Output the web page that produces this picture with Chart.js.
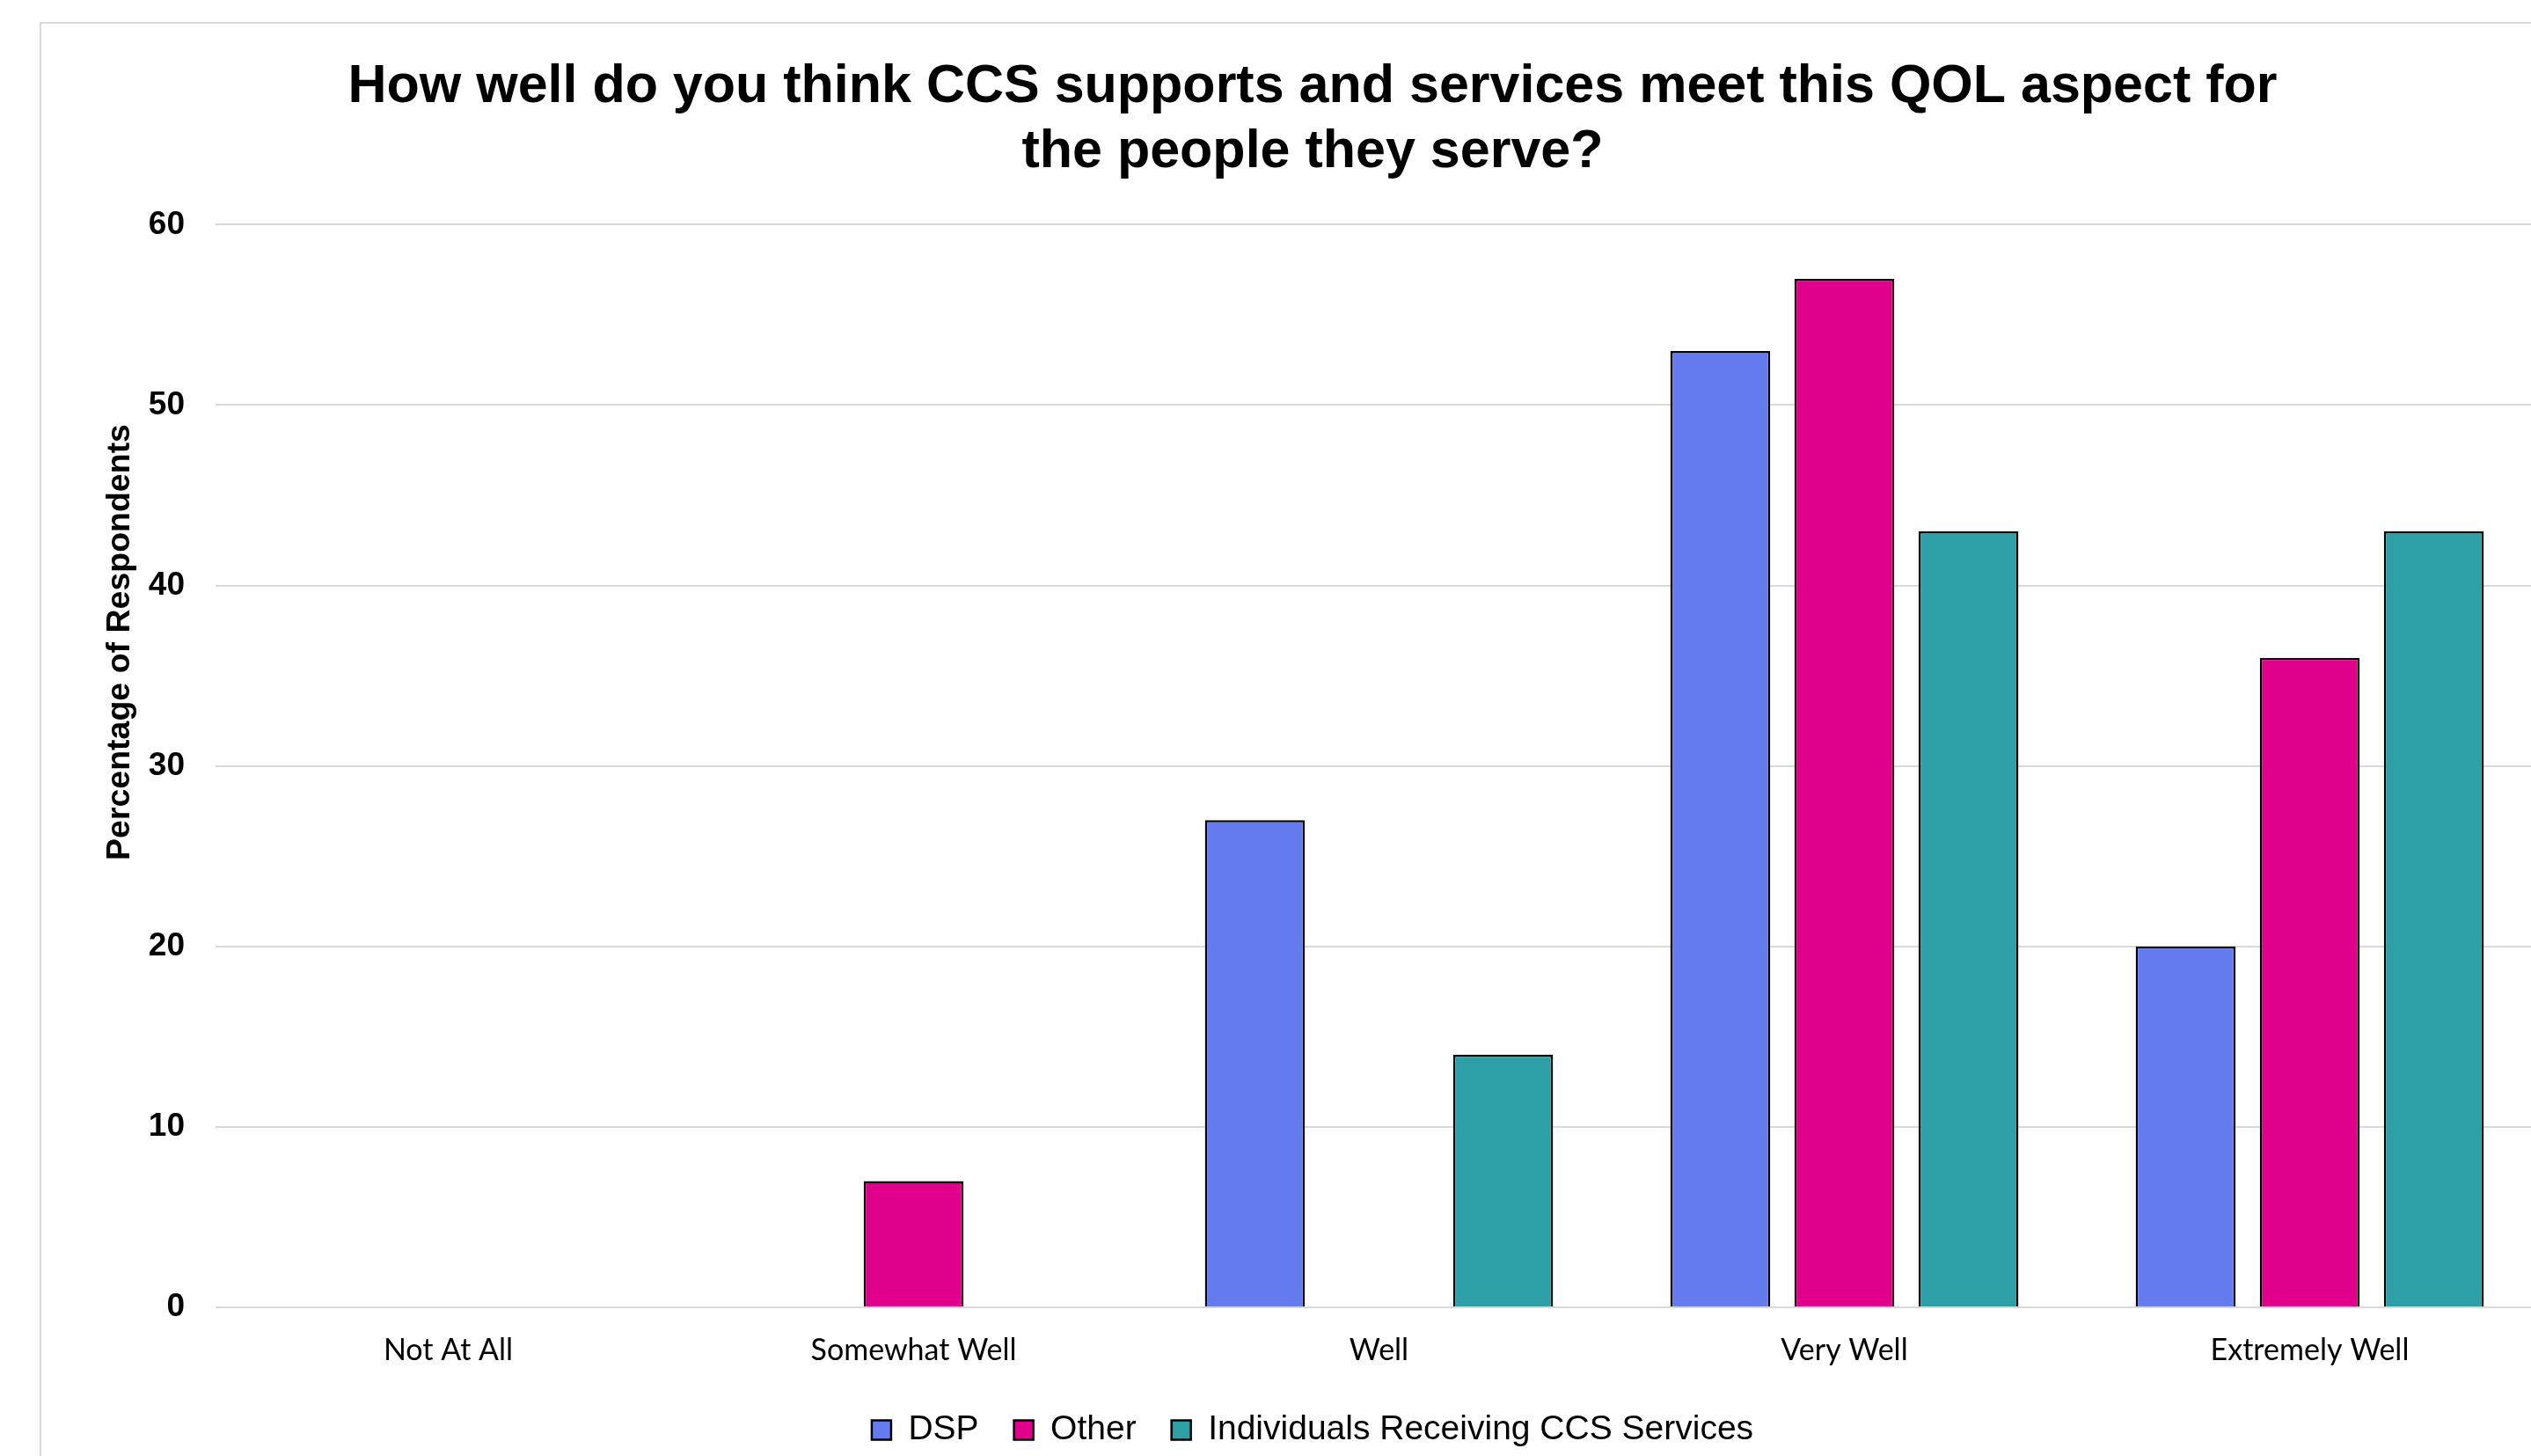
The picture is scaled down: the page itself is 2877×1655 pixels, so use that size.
<!DOCTYPE html>
<html>
<head>
<meta charset="utf-8">
<script src="https://cdn.jsdelivr.net/npm/chart.js@4.4.1/dist/chart.umd.min.js"></script>
<style>
    html, body { margin: 0; padding: 0; overflow: hidden; background: #ffffff; }
    #marco { position: absolute; left: 45px; top: 25px; width: 2950px; height: 1700px; border: 2px solid #d9d9d9; }
    #grafico { position: absolute; left: 0; top: 0; }
</style>
</head>
<body>
<div id="marco"></div>
<canvas id="grafico" width="2890" height="1655" style="width:2890px;height:1655px"></canvas>
<script>
const categorias = ["Not At All", "Somewhat Well", "Well", "Very Well", "Extremely Well"]
const dsp = [0, 0, 27, 53, 20]
const otros = [0, 7, 0, 57, 36]
const individuos = [0, 0, 14, 43, 43]
const series = ["DSP", "Other", "Individuals Receiving CCS Services"]
const colores = ["#647cef", "#e0008c", "#2ca0a6"]
const yMax = 60
const yPaso = 10
const titulo = ["How well do you think CCS supports and services meet this QOL aspect for", "the people they serve?"]
const tituloY = "Percentage of Respondents"

const arial = "'Liberation Sans', Arial, sans-serif"

// titulo del eje y, un poco mas arriba que el centro del area
const ejeYTitulo = {
    id: "ejeYTitulo",
    afterDraw(chart) {
        const ctx = chart.ctx
        ctx.save()
        ctx.translate(147, 730)
        ctx.rotate(-Math.PI / 2)
        ctx.font = "bold 37.5px " + arial
        ctx.fillStyle = "#000000"
        ctx.textAlign = "center"
        ctx.textBaseline = "alphabetic"
        ctx.fillText(tituloY, 0, 0)
        ctx.restore()
    }
}

const valores = [dsp, otros, individuos]
const datasets = series.map(function (nombre, i) {
    return {
        label: nombre,
        data: valores[i],
        backgroundColor: colores[i],
        borderColor: "#000000",
        borderWidth: 2.5,
        categoryPercentage: 0.8,
        barPercentage: 0.805
    }
})

const ctx = document.getElementById("grafico").getContext("2d")
const chart = new Chart(ctx, {
    type: "bar",
    data: { labels: categorias, datasets: datasets },
    options: {
        responsive: false,
        animation: false,
        layout: { padding: { left: 94, right: 0, top: 0, bottom: 0 } },
        plugins: {
            tooltip: { enabled: false },
            title: {
                display: true,
                text: titulo,
                color: "#000000",
                font: { family: arial, size: 61, weight: "bold", lineHeight: 1.2 },
                padding: { top: 63, bottom: 46 }
            },
            legend: {
                display: true,
                position: "bottom",
                labels: {
                    color: "#000000",
                    font: { family: arial, size: 39 },
                    boxWidth: 22,
                    boxHeight: 22,
                    padding: 40
                }
            }
        },
        scales: {
            x: {
                grid: { display: false, drawTicks: false },
                border: { display: false },
                ticks: {
                    color: "#000000",
                    font: { family: "Lato, 'Open Sans', sans-serif", size: 34, lineHeight: 1.4 },
                    padding: 25,
                    maxRotation: 0
                },
                afterFit: function (scale) { scale.height = 80 }
            },
            y: {
                min: 0,
                max: yMax,
                grid: { color: "#d9d9d9", lineWidth: 2, drawTicks: false },
                border: { display: false },
                ticks: {
                    stepSize: yPaso,
                    color: "#000000",
                    font: { family: arial, size: 37, weight: "bold" },
                    padding: 35
                },
                afterFit: function (scale) { scale.width = 151 }
            }
        }
    },
    plugins: [ejeYTitulo]
})
</script>
</body>
</html>
